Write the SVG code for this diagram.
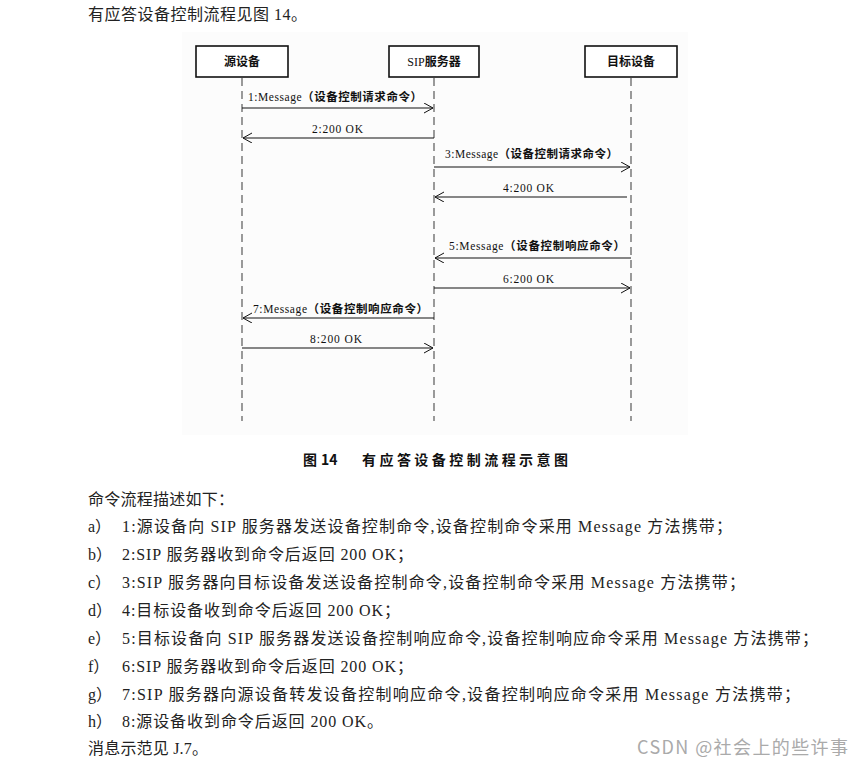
<svg xmlns="http://www.w3.org/2000/svg" width="864" height="768" viewBox="0 0 864 768">
<style>
.body{font-family:"Liberation Serif","Noto Sans CJK SC",serif;font-size:16px;fill:#222}
.box{fill:#fff;stroke:#111;stroke-width:1.6}
.bl{font-family:"Liberation Serif","Noto Sans CJK SC",sans-serif;font-size:12px;font-weight:bold;fill:#111;text-anchor:middle}
.life{stroke:#666;stroke-width:1.3;stroke-dasharray:8 5;fill:none}
.msg{stroke:#111;stroke-width:1;fill:none;marker-end:url(#arr)}
.ml{font-family:"Liberation Serif","Noto Sans CJK SC",serif;font-size:11.5px;fill:#111}
.ml .c{font-family:"Noto Sans CJK SC",sans-serif;font-weight:bold}
.cap{font-family:"Noto Sans CJK SC",sans-serif;font-size:14px;font-weight:bold;fill:#111}
.wm{font-family:"Noto Sans CJK SC","Liberation Sans",sans-serif;font-size:18px;fill:#aaa}
</style>
<defs>
<marker id="arr" markerWidth="12" markerHeight="12" refX="9" refY="5" orient="auto" markerUnits="userSpaceOnUse">
<path d="M0,0 L9,5 L0,10" fill="none" stroke="#111" stroke-width="1"/>
</marker>
</defs>
<rect width="864" height="768" fill="#fff"/>
<text class="body" x="88" y="20" textLength="219" lengthAdjust="spacing">有应答设备控制流程见图 14。</text>
<rect x="182" y="32" width="506" height="403" fill="#fcfcfc"/>
<g id="lifelines">
<line class="life" x1="242" y1="78" x2="242" y2="421"/>
<line class="life" x1="434" y1="78" x2="434" y2="421"/>
<line class="life" x1="631" y1="78" x2="631" y2="421"/>
</g>
<g id="src"><rect class="box" x="196" y="46" width="92" height="31"/><text class="bl" x="242" y="66">源设备</text></g>
<g id="sip"><rect class="box" x="389" y="46" width="90" height="31"/><text class="bl" x="434" y="66"><tspan font-weight="normal">SIP</tspan>服务器</text></g>
<g id="dst"><rect class="box" x="585" y="46" width="92" height="31"/><text class="bl" x="631" y="66">目标设备</text></g>
<g id="connectors">
<line class="msg" x1="242" y1="108" x2="433" y2="108"/>
<line class="msg" x1="434" y1="138" x2="243" y2="138"/>
<line class="msg" x1="434" y1="167" x2="630" y2="167"/>
<line class="msg" x1="627" y1="197" x2="435" y2="197"/>
<line class="msg" x1="631" y1="258" x2="435" y2="258"/>
<line class="msg" x1="434" y1="288" x2="630" y2="288"/>
<line class="msg" x1="434" y1="318" x2="243" y2="318"/>
<line class="msg" x1="242" y1="348" x2="433" y2="348"/>
<text class="ml" x="248" y="101" textLength="174" lengthAdjust="spacing">1:Message<tspan class="c">（设备控制请求命令）</tspan></text>
<text class="ml" x="312" y="133" textLength="51" lengthAdjust="spacing">2:200 OK</text>
<text class="ml" x="445" y="158" textLength="173" lengthAdjust="spacing">3:Message<tspan class="c">（设备控制请求命令）</tspan></text>
<text class="ml" x="503" y="192" textLength="51" lengthAdjust="spacing">4:200 OK</text>
<text class="ml" x="449" y="250" textLength="176" lengthAdjust="spacing">5:Message<tspan class="c">（设备控制响应命令）</tspan></text>
<text class="ml" x="503" y="283" textLength="51" lengthAdjust="spacing">6:200 OK</text>
<text class="ml" x="253" y="313" textLength="175" lengthAdjust="spacing">7:Message<tspan class="c">（设备控制响应命令）</tspan></text>
<text class="ml" x="310" y="343" textLength="52" lengthAdjust="spacing">8:200 OK</text>
</g>
<text class="cap" x="303" y="465">图<tspan x="321">14</tspan></text>
<text class="cap" x="362" y="465" textLength="206" lengthAdjust="spacing">有应答设备控制流程示意图</text>
<text class="body" x="88" y="505" textLength="146" lengthAdjust="spacing">命令流程描述如下：</text>
<g class="body">
<text x="88" y="532">a）</text><text x="122" y="532" textLength="610" lengthAdjust="spacing">1:源设备向 SIP 服务器发送设备控制命令,设备控制命令采用 Message 方法携带；</text>
<text x="88" y="560">b）</text><text x="122" y="560" textLength="291" lengthAdjust="spacing">2:SIP 服务器收到命令后返回 200 OK；</text>
<text x="88" y="588">c）</text><text x="122" y="588" textLength="623" lengthAdjust="spacing">3:SIP 服务器向目标设备发送设备控制命令,设备控制命令采用 Message 方法携带；</text>
<text x="88" y="616">d）</text><text x="122" y="616" textLength="278" lengthAdjust="spacing">4:目标设备收到命令后返回 200 OK；</text>
<text x="88" y="644">e）</text><text x="122" y="644" textLength="696" lengthAdjust="spacing">5:目标设备向 SIP 服务器发送设备控制响应命令,设备控制响应命令采用 Message 方法携带；</text>
<text x="88" y="672">f）</text><text x="122" y="672" textLength="291" lengthAdjust="spacing">6:SIP 服务器收到命令后返回 200 OK；</text>
<text x="88" y="700">g）</text><text x="122" y="700" textLength="678" lengthAdjust="spacing">7:SIP 服务器向源设备转发设备控制响应命令,设备控制响应命令采用 Message 方法携带；</text>
<text x="88" y="727">h）</text><text x="122" y="727" textLength="261" lengthAdjust="spacing">8:源设备收到命令后返回 200 OK。</text>
<text x="88" y="754" textLength="120" lengthAdjust="spacing">消息示范见 J.7。</text>
</g>
<text class="wm" x="637" y="754" textLength="211" lengthAdjust="spacing">CSDN @社会上的些许事</text>
</svg>
